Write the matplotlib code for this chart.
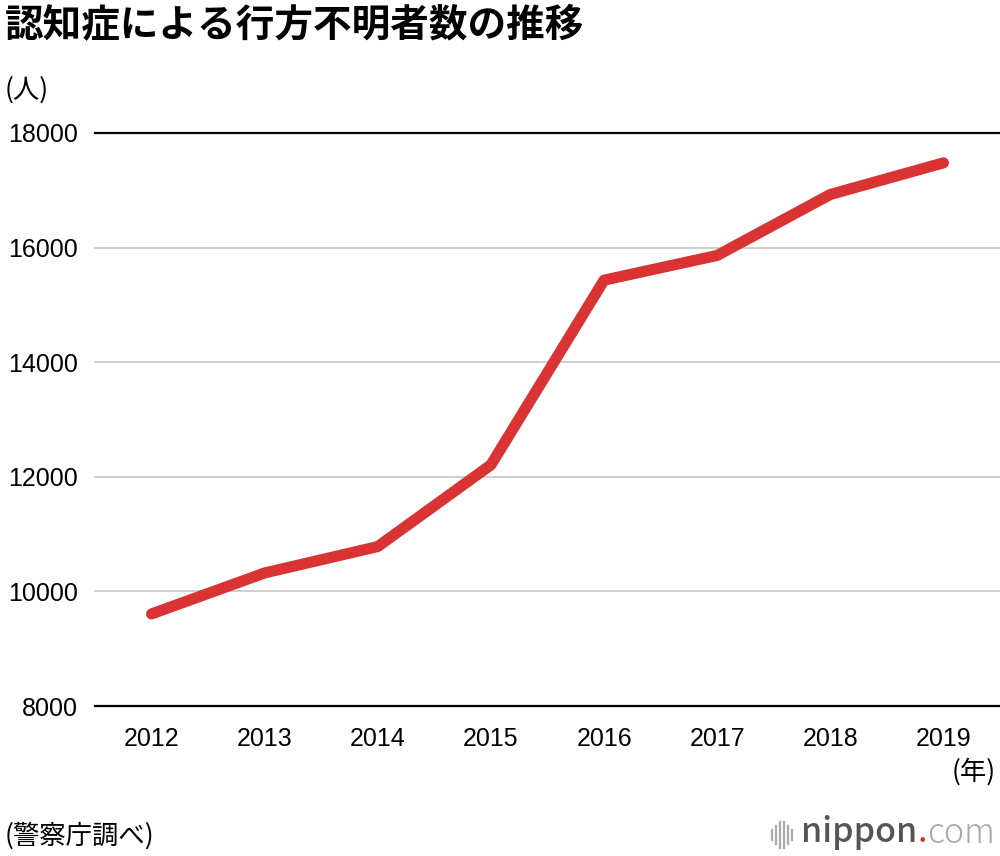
import matplotlib.pyplot as plt
from matplotlib.lines import Line2D
import numpy as np

plt.rcParams['font.family'] = ['Noto Sans CJK JP', 'DejaVu Sans']

years = ['2012', '2013', '2014', '2015', '2016', '2017', '2018', '2019']
missing = [9607, 10322, 10783, 12208, 15432, 15863, 16927, 17479]
yticks = [8000, 10000, 12000, 14000, 16000, 18000]

fig = plt.figure(figsize=(10, 8.56), dpi=100)
ax = fig.add_axes([0.095, 1 - 706 / 856, 0.905, (706 - 133) / 856])

x = np.arange(len(years))
for v in yticks:
    if v in (8000, 18000):
        ax.axhline(v, color='black', lw=1.6, clip_on=False, zorder=1)
    else:
        ax.axhline(v, color='#cccccc', lw=1.3, clip_on=False, zorder=1)

ax.plot(x, missing, color='#d93333', lw=8, solid_capstyle='round',
        solid_joinstyle='round', zorder=3)

ax.set_xlim(-0.5, len(years) - 0.5)
ax.set_ylim(8000, 18000)
for s in ax.spines.values():
    s.set_visible(False)
num_font = ['Liberation Sans', 'DejaVu Sans']
ax.set_yticks(yticks)
ax.set_yticklabels([str(v) for v in yticks], fontsize=18, family=num_font)
ax.set_xticks(x)
ax.set_xticklabels(years, fontsize=18, family=num_font)
ax.tick_params(axis='y', length=0, pad=12)
ax.tick_params(axis='x', length=0, pad=15)

fig.text(0.005, 1 - 25 / 856, '認知症による行方不明者数の推移', fontsize=27.8,
         fontweight='bold', va='center', ha='left')
fig.text(0.005, 1 - 90 / 856, '(人)', fontsize=19, va='center', ha='left')
fig.text(0.996, 1 - 772 / 856, '(年)', fontsize=19, va='center', ha='right')
fig.text(0.005, 1 - 836 / 856, '(警察庁調べ)', fontsize=19, va='center', ha='left')

# nippon.com logo
bars_x = [772, 776, 780, 784, 788, 792]
bars_h = [5, 9, 13, 13, 9, 5]
for bx, bh in zip(bars_x, bars_h):
    fig.add_artist(Line2D([bx / 1000, bx / 1000],
                          [1 - (835 + bh) / 856, 1 - (835 - bh) / 856],
                          color='#aaaaaa', lw=1.6))
yl = 1 - 833 / 856
t1 = fig.text(0.801, yl, 'nippon', fontsize=24.5, color='#555555', va='center',
              ha='left', fontweight='medium')
fig.canvas.draw()
bb = t1.get_window_extent()
t2 = fig.text(bb.x1 / 1000, yl, '.', fontsize=24.5, color='#d93333', va='center', ha='left')
bb2 = t2.get_window_extent()
fig.text(bb2.x1 / 1000, yl, 'com', fontsize=24.5, color='#aaaaaa', va='center',
         ha='left', fontweight='light')

fig.savefig('out.png', dpi=100)
